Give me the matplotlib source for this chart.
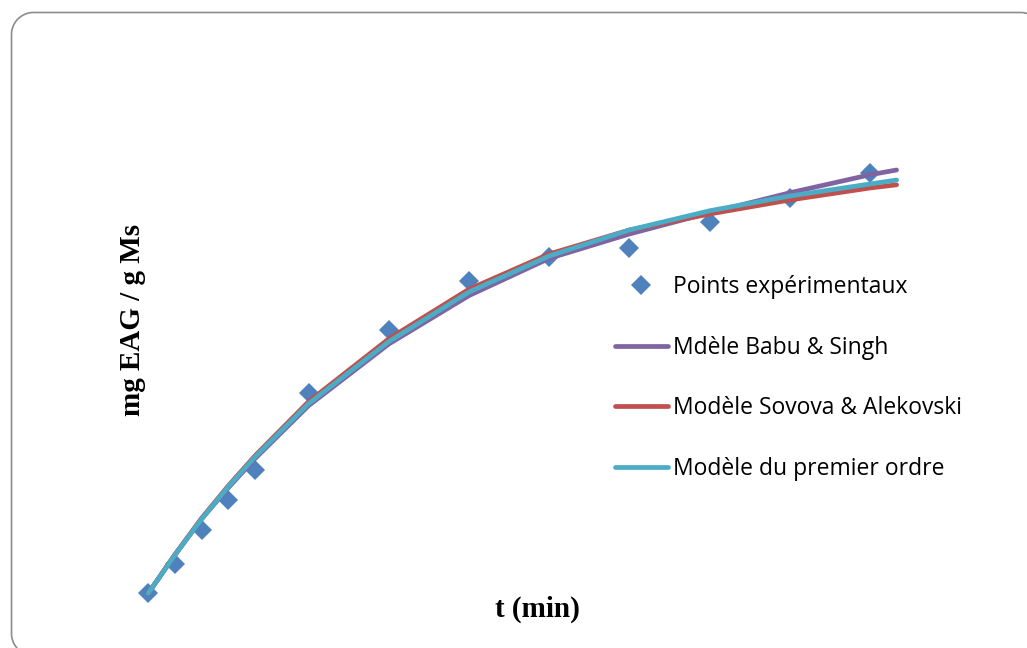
import matplotlib
matplotlib.use("Agg")
import matplotlib.pyplot as plt
import numpy as np

# experimental points (t in min, mg EAG / g Ms)
t_exp = [0, 5, 10, 15, 20, 30, 45, 60, 75, 90, 105, 120, 135]
y_exp = [0.17, 0.90, 1.76, 2.49, 3.24, 5.18, 6.75, 7.98, 8.58, 8.81, 9.46, 10.05, 10.68]

# model curves, read at these times
t_mod = [0, 5, 10, 15, 20, 30, 45, 60, 75, 90, 105, 120, 135, 140]
y_babu = [0.17, 1.13, 2.03, 2.81, 3.54, 4.86, 6.40, 7.61, 8.54, 9.15, 9.68, 10.18, 10.63, 10.75]
y_sovova = [0.17, 1.14, 2.05, 2.86, 3.61, 4.96, 6.53, 7.77, 8.65, 9.25, 9.65, 10.00, 10.30, 10.38]
y_first = [0.17, 1.13, 2.03, 2.84, 3.58, 4.91, 6.46, 7.70, 8.60, 9.25, 9.73, 10.10, 10.40, 10.50]

labels = ["Points expérimentaux", "Mdèle Babu & Singh",
          "Modèle Sovova & Alekovski", "Modèle du premier ordre"]

W, H = 1027, 648
fig = plt.figure(figsize=(W / 100, H / 100), dpi=100)

# background axes in pixel units (y down) for the rounded chart border
bg = fig.add_axes([0, 0, 1, 1])
bg.set_xlim(0, W)
bg.set_ylim(H, 0)
bg.axis("off")
x0, y0, x1, y1, r = 11.5, 12.5, 1042.5, 655.5, 22
corners = [((x0 + r, y1 - r), 90, 180), ((x0 + r, y0 + r), 180, 270),
           ((x1 - r, y0 + r), 270, 360), ((x1 - r, y1 - r), 0, 90)]
bx, by = [], []
for (cx, cy), a0, a1 in corners:
    th = np.radians(np.linspace(a0, a1, 30))
    bx += list(cx + r * np.cos(th))
    by += list(cy + r * np.sin(th))
bx.append(bx[0])
by.append(by[0])
bg.plot(bx, by, color="#8c8c8c", lw=1.2)

# axes placed so that t=0 -> x 148 px, t=140 -> x 897 px
px_per_min = 5.345
x_lim = (-9, 150)
left = 148.3 + x_lim[0] * px_per_min
width = (x_lim[1] - x_lim[0]) * px_per_min
y_lim = (-1, 12)  # py = 600 - 40*v
top_px = 600 - 40 * y_lim[1]
bot_px = 600 - 40 * y_lim[0]
ax = fig.add_axes([left / W, (H - bot_px) / H, width / W, (bot_px - top_px) / H])
ax.set_xlim(*x_lim)
ax.set_ylim(*y_lim)
ax.axis("off")

pts, = ax.plot(t_exp, y_exp, "D", color="#4F81BD", ms=10.5, mew=0, zorder=2)
l1, = ax.plot(t_mod, y_babu, color="#8064A2", lw=3.4, solid_capstyle="round", zorder=3)
l2, = ax.plot(t_mod, y_sovova, color="#C0504D", lw=3.4, solid_capstyle="round", zorder=4)
l3, = ax.plot(t_mod, y_first, color="#4BACC6", lw=3.4, solid_capstyle="round", zorder=5)

leg = fig.legend([pts, l1, l2, l3], labels, loc="upper left",
                 bbox_to_anchor=(615 / W, 1 - 275 / H), frameon=False,
                 prop={"family": "Open Sans", "size": 16.5},
                 handlelength=2.3, handletextpad=0.22, labelspacing=1.6,
                 borderpad=0, borderaxespad=0)

fig.text(133 / W, 1 - 320 / H, "mg EAG / g Ms", rotation=90, ha="center", va="center",
         family="Liberation Serif", weight="bold", fontsize=21)
fig.text(537 / W, 1 - 609 / H, "t (min)", ha="center", va="center",
         family="Liberation Serif", weight="bold", fontsize=21)

fig.savefig("out.png", dpi=100)
